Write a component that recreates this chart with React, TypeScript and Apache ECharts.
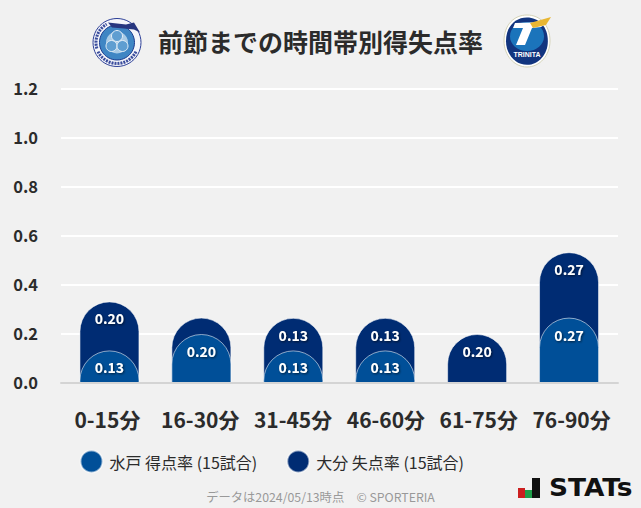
import React, { useEffect, useRef } from "react";
import * as echarts from "echarts";

const categories = ["0-15分", "16-30分", "31-45分", "46-60分", "61-75分", "76-90分"];
const mitoScored = [0.133, 0.2, 0.133, 0.133, 0, 0.267];
const oitaConceded = [0.2, 0.067, 0.133, 0.133, 0.2, 0.267];
const yMin = 0;
const yMax = 1.2;
const yStep = 0.2;
const titleText = "前節までの時間帯別得失点率";
const mitoName = "水戸 得点率 (15試合)";
const oitaName = "大分 失点率 (15試合)";
const footerText = "データは2024/05/13時点　© SPORTERIA";

const FONT = '"Noto Sans CJK JP", "Noto Sans", sans-serif';
const BLUE = "#004f98";
const NAVY = "#002c73";
const INK = "#2b2b2b";

echarts.graphic.registerShape(
  "oitaShield",
  echarts.graphic.extendPath(
    "M23 0 C36 0 46 10 46 26 C46 40 36 52 23 52 C10 52 0 40 0 26 C0 10 10 0 23 0 Z",
    {}
  )
);
echarts.graphic.registerShape(
  "oitaT",
  echarts.graphic.extendPath(
    "M10 9 L44 8 L36 13 L27 14 L20 31 L11 31 L18 14 L8 14 Z",
    {}
  )
);
echarts.graphic.registerShape(
  "mitoWing",
  echarts.graphic.extendPath("M14 4 L32 6 L40 4 L46 14 L40 11 L30 10 L18 9 Z", {})
);

export default function App() {
  const ref = useRef<HTMLDivElement>(null);
  useEffect(() => {
    document.body.style.margin = "0";
    document.body.style.background = "#f1f1f1";
    const chart = echarts.init(ref.current!, null, { renderer: "svg" });
    const barBorder = { borderColor: "rgba(255,255,255,0.55)", borderWidth: 1, borderRadius: [30, 30, 0, 0] };
    const valueLabel = (values: number[]) => ({
      show: true,
      position: "insideTop" as const,
      distance: 10,
      fontFamily: FONT,
      fontSize: 14,
      fontWeight: 700,
      color: "#ffffff",
      textShadowColor: "rgba(0,0,0,0.6)",
      textShadowBlur: 2,
      textShadowOffsetX: 1,
      textShadowOffsetY: 1,
      formatter: (p: any) => (values[p.dataIndex] >= 0.1 ? values[p.dataIndex].toFixed(2) : ""),
    });
    chart.setOption({
      animation: false,
      backgroundColor: "#f1f1f1",
      textStyle: { fontFamily: FONT },
      grid: [
        { left: 63.5, right: 26, top: 89, bottom: 125 },
        { left: 61, right: 23, top: 89, bottom: 125 },
      ],
      xAxis: [
        {
          type: "category",
          gridIndex: 0,
          data: categories,
          axisLine: { show: false },
          axisTick: { show: false },
          axisLabel: { show: false },
        },
        {
          type: "category",
          gridIndex: 1,
          data: categories,
          z: 5,
          axisLine: { show: true, lineStyle: { color: "#d4d4d4", width: 2 } },
          axisTick: { show: false },
          axisLabel: { color: INK, fontSize: 21, fontWeight: 700, fontFamily: FONT, margin: 25, interval: 0 },
        },
      ],
      yAxis: [
        { type: "value", gridIndex: 0, min: yMin, max: yMax, interval: yStep, show: false, splitLine: { show: false } },
        {
          type: "value",
          gridIndex: 1,
          min: yMin,
          max: yMax,
          interval: yStep,
          axisLine: { show: false },
          axisTick: { show: false },
          splitLine: { lineStyle: { color: "#ffffff", width: 2 } },
          axisLabel: {
            color: INK,
            fontSize: 16.5,
            fontWeight: 700,
            fontFamily: FONT,
            margin: 23,
            verticalAlign: "bottom",
            lineHeight: 3,
            formatter: (v: number) => v.toFixed(1),
          },
        },
      ],
      legend: {
        left: 79.5,
        top: 449.5,
        padding: 0,
        icon: "circle",
        itemWidth: 22,
        itemHeight: 22,
        itemGap: 29,
        data: [mitoName, oitaName],
        textStyle: { fontFamily: FONT, fontSize: 16, color: INK, padding: [0, 0, 0, 2] },
      },
      series: [
        {
          name: oitaName,
          type: "bar",
          xAxisIndex: 0,
          yAxisIndex: 0,
          barWidth: 60,
          barGap: "-100%",
          z: 2,
          itemStyle: { color: NAVY, ...barBorder },
          label: valueLabel(oitaConceded),
          data: oitaConceded.map((v, i) => v + mitoScored[i]),
        },
        {
          name: mitoName,
          type: "bar",
          xAxisIndex: 0,
          yAxisIndex: 0,
          barWidth: 60,
          barGap: "-100%",
          z: 3,
          itemStyle: { color: BLUE, ...barBorder },
          label: valueLabel(mitoScored),
          data: mitoScored.map((v) => (v > 0 ? v : null)),
        },
      ],
      graphic: [
        {
          type: "text",
          x: 320.5,
          y: 41,
          style: {
            text: titleText,
            fontFamily: FONT,
            fontSize: 25,
            fontWeight: 700,
            fill: INK,
            align: "center",
            verticalAlign: "middle",
          },
        },
        { type: "circle", shape: { cx: 117, cy: 42.5, r: 24 }, style: { fill: "#f4f5fa", stroke: "#2c3f97", lineWidth: 1 } },
        { type: "circle", shape: { cx: 117, cy: 42.5, r: 17.5 }, style: { fill: "#3f86c4", stroke: "#1d3c8f", lineWidth: 1 } },
        { type: "circle", shape: { cx: 117, cy: 42.5, r: 11 }, style: { fill: "#a9cbe6" } },
        { type: "circle", shape: { cx: 117, cy: 36, r: 5.5 }, style: { fill: "#5f9ed1", stroke: "#e3eef7", lineWidth: 1 } },
        { type: "circle", shape: { cx: 111.5, cy: 46, r: 5.5 }, style: { fill: "#5f9ed1", stroke: "#e3eef7", lineWidth: 1 } },
        { type: "circle", shape: { cx: 122.5, cy: 46, r: 5.5 }, style: { fill: "#5f9ed1", stroke: "#e3eef7", lineWidth: 1 } },
        { type: "mitoWing", x: 94, y: 18.5, style: { fill: "#27367f" } },
        { type: "arc", shape: { cx: 117, cy: 42.5, r: 21, startAngle: 0.45, endAngle: 2.7 }, style: { stroke: "#3a4c9c", lineWidth: 3, lineDash: [2, 1], fill: "none" } },
        { type: "arc", shape: { cx: 117, cy: 42.5, r: 21, startAngle: 2.85, endAngle: 4.2 }, style: { stroke: "#3a4c9c", lineWidth: 3, lineDash: [2, 1], fill: "none" } },

        { type: "oitaShield", x: 504, y: 15, style: { fill: "#ffffff", stroke: "#d5d3b8", lineWidth: 1 } },
        { type: "oitaShield", x: 506, y: 17.5, scaleX: 0.91, scaleY: 0.91, style: { fill: "#12357f" } },
        { type: "oitaShield", x: 510, y: 22, scaleX: 0.74, scaleY: 0.56, style: { fill: "#1b74bb" } },
        { type: "oitaT", x: 505, y: 14, style: { fill: "#ffffff" } },
        { type: "polygon", shape: { points: [[530, 23], [551, 17], [546, 25], [533, 28]] }, style: { fill: "#e8b632" } },
        {
          type: "text", x: 527, y: 54,
          style: { text: "TRINITA", fontFamily: "Liberation Sans", fontSize: 7, fontWeight: 700, fill: "#ffffff", align: "center", verticalAlign: "middle" },
        },

        {
          type: "text",
          x: 320.5,
          y: 497,
          style: {
            text: footerText,
            fontFamily: FONT,
            fontSize: 12.3,
            fill: "#999999",
            align: "center",
            verticalAlign: "middle",
          },
        },
        { type: "rect", shape: { x: 518, y: 488, width: 7, height: 10 }, style: { fill: "#cc1f1f" } },
        { type: "rect", shape: { x: 525, y: 490, width: 7, height: 8 }, style: { fill: "#1f9e4a" } },
        { type: "rect", shape: { x: 532, y: 478, width: 8, height: 20 }, style: { fill: "#111111" } },
        {
          type: "text",
          x: 549,
          y: 488,
          scaleX: 1.1,
          style: {
            text: "STATs",
            fontFamily: "DejaVu Sans",
            fontSize: 24,
            fontWeight: 700,
            fill: "#111111",
            align: "left",
            verticalAlign: "middle",
          },
        },
      ],
    });
    return () => chart.dispose();
  }, []);
  return <div ref={ref} style={{ width: 641, height: 508 }} />;
}
